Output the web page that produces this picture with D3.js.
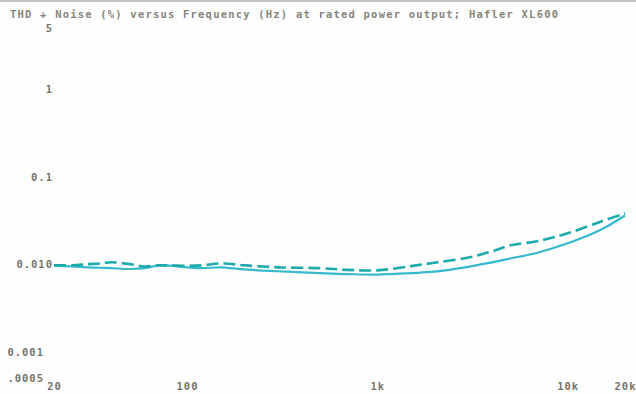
<!DOCTYPE html>
<html>
<head>
<meta charset="utf-8">
<script src="https://cdn.jsdelivr.net/npm/d3@7"></script>
<style>
  html, body { margin: 0; padding: 0; background: #fefefe; }
  svg { display: block; }
</style>
</head>
<body>
<div id="chrt"></div>
<script>
// THD+N (%) vs frequency (Hz)
const chartTitle = 'THD + Noise (%) versus Frequency (Hz) at rated power output; Hafler XL600';
const freqs = [20, 25, 30, 35, 40, 50, 60, 70, 80, 100, 120, 150, 200, 300, 500, 700,
  1000, 1500, 2000, 3000, 4000, 5000, 7000, 10000, 15000, 20000];
const thdDashed = [0.0097, 0.0097, 0.0100, 0.0102, 0.0105, 0.0100, 0.0094, 0.0097, 0.0097, 0.0096, 0.0097, 0.0102, 0.0097, 0.0092, 0.0090, 0.0086,
  0.0085, 0.0095, 0.0104, 0.0119, 0.0140, 0.0164, 0.0184, 0.0225, 0.0308, 0.0380];
const thdSolid = [0.0096, 0.0094, 0.0092, 0.0091, 0.0090, 0.0088, 0.0090, 0.0096, 0.0096, 0.0092, 0.0090, 0.0092, 0.0087, 0.0083, 0.0079, 0.0077,
  0.0076, 0.0079, 0.0082, 0.0093, 0.0105, 0.0116, 0.0136, 0.0173, 0.0249, 0.0360];
const xTickVals = [20, 100, 1000, 10000, 20000];
const xTickLabels = ['20', '100', '1k', '10k', '20k'];
const yTickVals = [5, 1, 0.1, 0.01, 0.001, 0.0005];
const yTickLabels = ['5', '1', '0.1', '0.010', '0.001', '.0005'];

const width = 636, height = 394;
const textColor = '#74746a';
const font = "'DejaVu Sans Mono', monospace";

const svg = d3.select('#chrt').append('svg')
    .attr('width', width)
    .attr('height', height);

svg.append('rect').attr('width', width).attr('height', height).attr('fill', '#fefefe');
// scanner edge at the very top
svg.append('rect').attr('x', 0).attr('y', 0).attr('width', width).attr('height', 2).attr('fill', '#c4c4bc');

const scaleX = d3.scaleLog().domain([20, 20000]).range([54, 625]);
const scaleY = d3.scaleLog().domain([0.0005, 5]).range([378, 28]);

svg.append('text')
    .attr('x', 10)
    .attr('y', 18)
    .attr('font-family', font)
    .attr('font-size', 10.5)
    .attr('font-weight', 'bold')
    .attr('fill', '#85857a')
    .attr('textLength', 548)
    .attr('lengthAdjust', 'spacing')
    .text(chartTitle);

// axes: labels only, no lines
const xAxis = d3.axisBottom(scaleX)
    .tickValues(xTickVals)
    .tickSize(0)
    .tickPadding(0)
    .tickFormat((d, i) => xTickLabels[i]);
const gx = svg.append('g').attr('transform', 'translate(0,383)').call(xAxis);
gx.select('.domain').remove();

const yAxis = d3.axisLeft(scaleY)
    .tickValues(yTickVals)
    .tickSize(0)
    .tickPadding(0)
    .tickFormat((d, i) => yTickLabels[i]);
const gy = svg.append('g').attr('transform', 'translate(53,0)').call(yAxis);
gy.select('.domain').remove();
// the two lowest labels sit further left on the printout
gy.selectAll('.tick').filter((d) => d < 0.005).select('text').attr('dx', -9);

svg.selectAll('.tick text')
    .attr('font-family', font)
    .attr('font-size', 10.5)
    .attr('font-weight', 'bold')
    .attr('letter-spacing', 1)
    .attr('fill', textColor);

const line = d3.line()
    .x((d) => scaleX(d[0]))
    .y((d) => scaleY(d[1]))
    .curve(d3.curveCatmullRom);

svg.append('path')
    .datum(freqs.map((f, i) => [f, thdSolid[i]]))
    .attr('fill', 'none')
    .attr('stroke', '#36b9cc')
    .attr('stroke-width', 2.2)
    .attr('d', line);

svg.append('path')
    .datum(freqs.map((f, i) => [f, thdDashed[i]]))
    .attr('fill', 'none')
    .attr('stroke', '#1eaaaa')
    .attr('stroke-width', 2.6)
    .attr('stroke-dasharray', '12,5')
    .attr('d', line);
</script>
</body>
</html>
